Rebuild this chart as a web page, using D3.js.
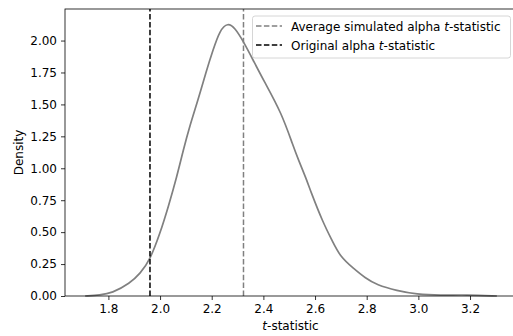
<!DOCTYPE html>
<html>
<head>
<meta charset="utf-8">
<script src="https://cdn.jsdelivr.net/npm/d3@7"></script>
<style>
  body { margin: 0; background: #fff; }
  svg { display: block; font-family: "DejaVu Sans", sans-serif; }
</style>
</head>
<body>
<script>
// kde curve of simulated alpha t-statistics
const tStat = [1.71, 1.768, 1.813, 1.884, 1.923, 1.961, 2.0, 2.032, 2.065, 2.09, 2.116, 2.147, 2.178, 2.205, 2.232, 2.262, 2.29, 2.323, 2.36, 2.4, 2.471, 2.516, 2.536, 2.568, 2.581, 2.632, 2.665, 2.697, 2.748, 2.794, 2.839, 2.917, 2.994, 3.084, 3.187, 3.304];
const density = [0.0, 0.008, 0.021, 0.10, 0.176, 0.282, 0.491, 0.699, 0.934, 1.143, 1.339, 1.535, 1.754, 1.926, 2.083, 2.14, 2.099, 1.991, 1.848, 1.691, 1.431, 1.169, 1.065, 0.908, 0.83, 0.569, 0.439, 0.308, 0.217, 0.141, 0.086, 0.042, 0.013, 0.005, 0.01, 0.0];
const avgSimulated = 2.323;
const originalAlpha = 1.961;
const xTicks = [1.8, 2.0, 2.2, 2.4, 2.6, 2.8, 3.0, 3.2];
const yTicks = [0, 0.25, 0.5, 0.75, 1.0, 1.25, 1.5, 1.75, 2.0];
const legendLabels = ["Average simulated alpha ", "Original alpha "];

const W = 513, H = 336;
const margin = {top: 9, right: -3, bottom: 40, left: 65};
const fs = 12;

const svg = d3.select("body").append("svg").attr("width", W).attr("height", H);

const x = d3.scaleLinear().domain([1.632, 3.378]).range([margin.left, W - margin.right]);
const y = d3.scaleLinear().domain([0, 2.247]).range([H - margin.bottom, margin.top]);

const pts = tStat.map((t, i) => [t, density[i]]);

// curve
svg.append("path")
  .datum(pts)
  .attr("fill", "none")
  .attr("stroke", "#808080")
  .attr("stroke-width", 1.7)
  .attr("d", d3.line().x(d => x(d[0])).y(d => y(d[1])).curve(d3.curveBasis));

// vertical reference lines
svg.append("line")
  .attr("x1", x(avgSimulated)).attr("x2", x(avgSimulated))
  .attr("y1", y.range()[0]).attr("y2", y.range()[1])
  .attr("stroke", "#808080").attr("stroke-width", 1.5).attr("stroke-dasharray", "5.5,2.4");
svg.append("line")
  .attr("x1", x(originalAlpha)).attr("x2", x(originalAlpha))
  .attr("y1", y.range()[0]).attr("y2", y.range()[1])
  .attr("stroke", "#000").attr("stroke-width", 1.5).attr("stroke-dasharray", "5.5,2.4");

// axes
const xAxis = svg.append("g")
  .attr("transform", `translate(0,${H - margin.bottom})`)
  .call(d3.axisBottom(x).tickValues(xTicks).tickFormat(d3.format(".1f")).tickSizeOuter(0).tickSize(4).tickPadding(4));
const yAxis = svg.append("g")
  .attr("transform", `translate(${margin.left},0)`)
  .call(d3.axisLeft(y).tickValues(yTicks).tickFormat(d3.format(".2f")).tickSizeOuter(0).tickSize(4).tickPadding(4));
[xAxis, yAxis].forEach(g => {
  g.selectAll("text").attr("font-size", fs).attr("fill", "#000").attr("font-family", "DejaVu Sans");
  g.selectAll("line").attr("stroke", "#000").attr("stroke-width", 0.8);
  g.select(".domain").remove();
});

// frame
svg.append("rect")
  .attr("x", margin.left).attr("y", margin.top)
  .attr("width", x.range()[1] - margin.left).attr("height", H - margin.bottom - margin.top)
  .attr("fill", "none").attr("stroke", "#000").attr("stroke-width", 0.8);

// axis labels
const xl = svg.append("text")
  .attr("x", (margin.left + x.range()[1]) / 2).attr("y", 330)
  .attr("text-anchor", "middle").attr("font-size", fs);
xl.append("tspan").attr("font-style", "italic").text("t");
xl.append("tspan").text("-statistic");

svg.append("text")
  .attr("transform", `translate(23,${(margin.top + H - margin.bottom) / 2}) rotate(-90)`)
  .attr("text-anchor", "middle").attr("font-size", fs)
  .text("Density");

// legend
const lg = svg.append("g");
lg.append("rect")
  .attr("x", 252.5).attr("y", 16).attr("width", 258).attr("height", 42).attr("rx", 2.5)
  .attr("fill", "#fff").attr("fill-opacity", 0.8).attr("stroke", "#ccc").attr("stroke-width", 0.8);
const legendColors = ["#808080", "#000"];
legendLabels.forEach((lab, i) => {
  const yy = 26 + i * 19;
  lg.append("line")
    .attr("x1", 256).attr("x2", 282).attr("y1", yy).attr("y2", yy)
    .attr("stroke", legendColors[i]).attr("stroke-width", 1.5).attr("stroke-dasharray", "5.5,2.4");
  const t = lg.append("text").attr("x", 291).attr("y", yy + 4.5).attr("font-size", fs);
  t.append("tspan").text(lab);
  t.append("tspan").attr("font-style", "italic").text("t");
  t.append("tspan").text("-statistic");
});
</script>
</body>
</html>
